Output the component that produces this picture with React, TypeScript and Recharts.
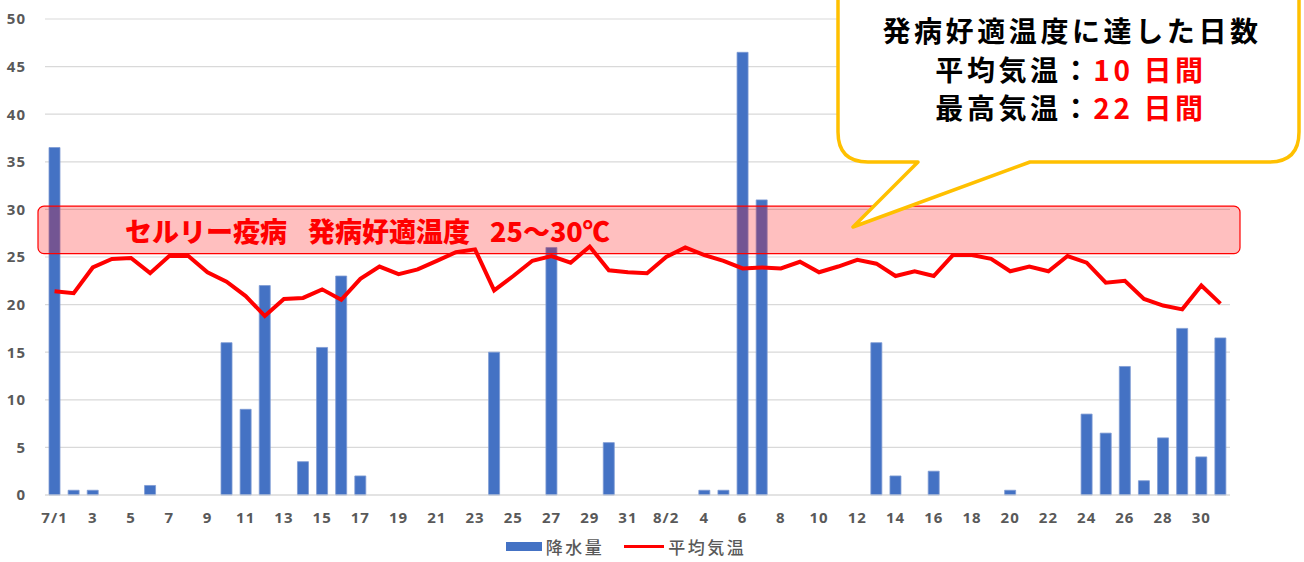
import {
  Bar,
  CartesianGrid,
  ComposedChart,
  Legend,
  Line,
  ReferenceArea,
  XAxis,
  YAxis,
} from 'recharts'

// 7/1 .. 8/31
const dayLabels = [
  '7/1', '2', '3', '4', '5', '6', '7', '8', '9', '10', '11', '12', '13', '14', '15', '16',
  '17', '18', '19', '20', '21', '22', '23', '24', '25', '26', '27', '28', '29', '30', '31',
  '8/1', '8/2', '3', '4', '5', '6', '7', '8', '9', '10', '11', '12', '13', '14', '15', '16',
  '17', '18', '19', '20', '21', '22', '23', '24', '25', '26', '27', '28', '29', '30', '31',
]

// 降水量 (mm)
const rain = [
  36.5, 0.5, 0.5, 0, 0, 1, 0, 0, 0, 16, 9, 22, 0, 3.5, 15.5, 23,
  2, 0, 0, 0, 0, 0, 0, 15, 0, 0, 26, 0, 0, 5.5, 0,
  0, 0, 0, 0.5, 0.5, 46.5, 31, 0, 0, 0, 0, 0, 16, 2, 0, 2.5,
  0, 0, 0, 0.5, 0, 0, 0, 8.5, 6.5, 13.5, 1.5, 6, 17.5, 4, 16.5,
]

// 平均気温 (℃)
const avgTemp = [
  21.4, 21.2, 23.9, 24.8, 24.9, 23.3, 25.1, 25.1, 23.4, 22.4, 20.9, 18.8, 20.6, 20.7, 21.6, 20.5,
  22.7, 24.0, 23.2, 23.7, 24.6, 25.5, 25.8, 21.5, 23.0, 24.6, 25.1, 24.4, 26.1, 23.6, 23.4,
  23.3, 25.0, 26.0, 25.2, 24.6, 23.8, 23.9, 23.8, 24.5, 23.4, 24.0, 24.7, 24.3, 23.0, 23.5, 23.0,
  25.2, 25.2, 24.8, 23.5, 24.0, 23.5, 25.1, 24.4, 22.3, 22.5, 20.6, 19.9, 19.5, 22.0, 20.1,
]

const yTicks = [0, 5, 10, 15, 20, 25, 30, 35, 40, 45, 50]

// 発病好適温度
const bandLow = 25.35
const bandHigh = 30.35

const data = dayLabels.map((label, i) => ({
  label,
  rain: rain[i],
  temp: avgTemp[i],
}))

const tickStyle = {
  fill: '#595959',
  fontSize: 15,
  fontWeight: 700,
  letterSpacing: 1,
}

const fontStack = "'Noto Sans', 'Noto Sans CJK JP', sans-serif"
const cjkFont = "'Noto Sans CJK JP', sans-serif"

function BandShape(props: any) {
  const { x, y, width, height } = props
  const cy = y + height / 2 + 1
  const textProps = {
    fill: '#FF0000',
    fontSize: 27,
    fontWeight: 900,
    fontFamily: cjkFont,
    dominantBaseline: 'central' as const,
    y: cy,
  }
  return (
    <g>
      <rect
        x={x - 7}
        y={y}
        width={width + 17}
        height={height}
        rx={6}
        fill="rgba(255,0,0,0.25)"
        stroke="#FF0000"
        strokeWidth={1.2}
      />
      <text {...textProps} x={x + 80}>セルリー疫病</text>
      <text {...textProps} x={x + 263}>発病好適温度</text>
      <text {...textProps} x={x + 445}>25～30℃</text>
    </g>
  )
}

function LegendContent(props: any) {
  const items = [...(props.payload || [])].sort(
    (a: any, b: any) => (a.type === 'rect' ? 0 : 1) - (b.type === 'rect' ? 0 : 1)
  )
  return (
    <div
      style={{
        display: 'flex',
        justifyContent: 'center',
        alignItems: 'center',
        gap: 20,
        height: 32,
        paddingLeft: 22,
        fontFamily: cjkFont,
        fontSize: 17,
        fontWeight: 500,
        letterSpacing: 2.5,
        color: '#595959',
      }}
    >
      {items.map((item: any) => (
        <div key={item.value} style={{ display: 'flex', alignItems: 'center', gap: 4 }}>
          {item.type === 'rect' ? (
            <span style={{ width: 36, height: 9, background: item.color, display: 'inline-block' }} />
          ) : (
            <span style={{ width: 40, height: 3, background: item.color, display: 'inline-block' }} />
          )}
          <span>{item.value}</span>
        </div>
      ))}
    </div>
  )
}

function Callout() {
  const path =
    'M 838,-10 L 838,132 Q 838,162 868,162 L 918,162 L 853,227 L 1030,162 ' +
    'L 1269,162 Q 1299,162 1299,132 L 1299,-10 Z'
  const lineStyle = {
    fontFamily: cjkFont,
    fontSize: 28,
    fontWeight: 700,
    letterSpacing: 3.6,
    textAnchor: 'middle' as const,
  }
  return (
    <svg
      width={1304}
      height={562}
      style={{ position: 'absolute', left: 0, top: 0, pointerEvents: 'none' }}
    >
      <path d={path} fill="#FFFFFF" stroke="#FFC000" strokeWidth={3.5} strokeLinejoin="round" />
      <text x={1072} y={42} fill="#000000" {...lineStyle}>
        発病好適温度に達した日数
      </text>
      <text x={1071} y={81} fill="#000000" {...lineStyle}>
        平均気温：<tspan fill="#FF0000">10 日間</tspan>
      </text>
      <text x={1071} y={119} fill="#000000" {...lineStyle}>
        最高気温：<tspan fill="#FF0000">22 日間</tspan>
      </text>
    </svg>
  )
}

export default function App() {
  return (
    <div
      style={{
        position: 'absolute',
        left: 0,
        top: 0,
        width: 1304,
        height: 562,
        background: '#FFFFFF',
        fontFamily: fontStack,
      }}
    >
      <ComposedChart
        width={1304}
        height={562}
        data={data}
        margin={{ top: 19, right: 74, left: 0, bottom: 0 }}
      >
        <CartesianGrid vertical={false} stroke="#d9d9d9" strokeWidth={1.2} />
        <XAxis
          dataKey="label"
          interval={1}
          tickLine={false}
          axisLine={{ stroke: '#d9d9d9', strokeWidth: 1.2 }}
          tick={tickStyle}
          tickMargin={11}
          height={35}
        />
        <YAxis
          domain={[0, 50]}
          ticks={yTicks}
          axisLine={false}
          tickLine={false}
          tick={tickStyle}
          tickMargin={13}
          width={45}
        />
        <Bar
          dataKey="rain"
          name="降水量"
          fill="#4472C4"
          stroke="#7d9bd3"
          strokeWidth={0.8}
          barSize={11}
          legendType="rect"
          isAnimationActive={false}
        />
        <ReferenceArea
          y1={bandLow}
          y2={bandHigh}
          ifOverflow="visible"
          shape={BandShape}
          {...({ zIndex: 350 } as any)}
        />
        <Line
          dataKey="temp"
          name="平均気温"
          type="linear"
          stroke="#FF0000"
          strokeWidth={4}
          dot={false}
          activeDot={false}
          legendType="line"
          isAnimationActive={false}
        />
        <Legend verticalAlign="bottom" height={32} content={LegendContent} />
      </ComposedChart>
      <Callout />
    </div>
  )
}
